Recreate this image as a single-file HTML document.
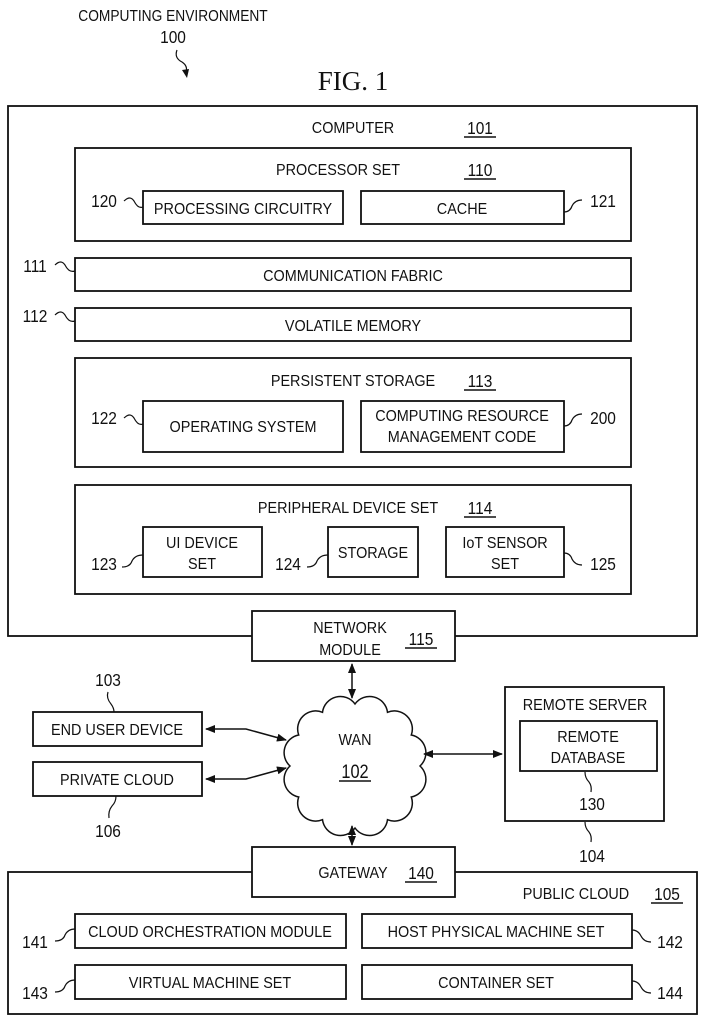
<!DOCTYPE html>
<html><head><meta charset="utf-8"><style>
html,body{margin:0;padding:0;background:#fff;}
svg{display:block;}
text{font-family:"Liberation Sans",sans-serif;fill:#111;}
.l{font-size:16px;}
.n{font-size:18px;}
rect{fill:#fff;stroke:#111;stroke-width:1.8;}
.w{fill:none;stroke:#111;stroke-width:1.2;}
.a{fill:none;stroke:#111;stroke-width:1.5;}
</style></head><body>
<svg width="707" height="1024" viewBox="0 0 707 1024" xmlns="http://www.w3.org/2000/svg">
<defs><marker id="ar" markerWidth="10" markerHeight="8" refX="9" refY="4" orient="auto-start-reverse" markerUnits="userSpaceOnUse"><path d="M0,0 L10,4 L0,8 z" fill="#111"/></marker></defs>

<text class="l" transform="translate(173 21) scale(.86 1)" text-anchor="middle">COMPUTING ENVIRONMENT</text>
<text class="n" transform="translate(173 43) scale(.86 1)" text-anchor="middle">100</text>
<path class="w" d="M177,50 q-3,8 5,12 q6,4 4,10"/>
<path d="M182,70 l5,8 l2,-9 z" fill="#111"/>
<text x="353" y="90" text-anchor="middle" style="font-family:'Liberation Serif',serif;font-size:27px">FIG. 1</text>

<rect x="8" y="106" width="689" height="530"/>
<text class="l" transform="translate(353 133) scale(.9 1)" text-anchor="middle">COMPUTER</text>
<text class="n" transform="translate(480 134) scale(.86 1)" text-anchor="middle">101</text>
<line x1="464" y1="137" x2="496" y2="137" stroke="#111" stroke-width="1.4"/>

<rect x="75" y="148" width="556" height="93"/>
<text class="l" transform="translate(338 175) scale(.9 1)" text-anchor="middle">PROCESSOR SET</text>
<text class="n" transform="translate(480 176) scale(.86 1)" text-anchor="middle">110</text>
<line x1="464" y1="179" x2="496" y2="179" stroke="#111" stroke-width="1.4"/>
<rect x="143" y="191" width="200" height="33"/>
<text class="l" transform="translate(243 214) scale(.9 1)" text-anchor="middle">PROCESSING CIRCUITRY</text>
<rect x="361" y="191" width="203" height="33"/>
<text class="l" transform="translate(462 214) scale(.9 1)" text-anchor="middle">CACHE</text>
<text class="n" transform="translate(104 207) scale(.86 1)" text-anchor="middle">120</text>
<path class="w" d="M124,201 q6,-6 10,0 q4,8 9,6"/>
<text class="n" transform="translate(603 207) scale(.86 1)" text-anchor="middle">121</text>
<path class="w" d="M564,212 q6,0 8,-6 q3,-6 10,-6"/>

<rect x="75" y="258" width="556" height="33"/>
<text class="l" transform="translate(353 281) scale(.9 1)" text-anchor="middle">COMMUNICATION FABRIC</text>
<text class="n" transform="translate(35 272) scale(.86 1)" text-anchor="middle">111</text>
<path class="w" d="M55,265 q6,-6 10,0 q4,8 10,6"/>
<rect x="75" y="308" width="556" height="33"/>
<text class="l" transform="translate(353 331) scale(.9 1)" text-anchor="middle">VOLATILE MEMORY</text>
<text class="n" transform="translate(35 322) scale(.86 1)" text-anchor="middle">112</text>
<path class="w" d="M55,315 q6,-6 10,0 q4,8 10,6"/>

<rect x="75" y="358" width="556" height="109"/>
<text class="l" transform="translate(353 386) scale(.9 1)" text-anchor="middle">PERSISTENT STORAGE</text>
<text class="n" transform="translate(480 387) scale(.86 1)" text-anchor="middle">113</text>
<line x1="464" y1="390" x2="496" y2="390" stroke="#111" stroke-width="1.4"/>
<rect x="143" y="401" width="200" height="51"/>
<text class="l" transform="translate(243 432) scale(.9 1)" text-anchor="middle">OPERATING SYSTEM</text>
<rect x="361" y="401" width="203" height="51"/>
<text class="l" transform="translate(462 421) scale(.9 1)" text-anchor="middle">COMPUTING RESOURCE</text>
<text class="l" transform="translate(462 442) scale(.9 1)" text-anchor="middle">MANAGEMENT CODE</text>
<text class="n" transform="translate(104 424) scale(.86 1)" text-anchor="middle">122</text>
<path class="w" d="M124,418 q6,-6 10,0 q4,8 9,6"/>
<text class="n" transform="translate(603 424) scale(.86 1)" text-anchor="middle">200</text>
<path class="w" d="M564,426 q6,0 8,-6 q3,-6 10,-6"/>

<rect x="75" y="485" width="556" height="109"/>
<text class="l" transform="translate(348 513) scale(.9 1)" text-anchor="middle">PERIPHERAL DEVICE SET</text>
<text class="n" transform="translate(480 514) scale(.86 1)" text-anchor="middle">114</text>
<line x1="464" y1="517" x2="496" y2="517" stroke="#111" stroke-width="1.4"/>
<rect x="143" y="527" width="119" height="50"/>
<text class="l" transform="translate(202 548) scale(.9 1)" text-anchor="middle">UI DEVICE</text>
<text class="l" transform="translate(202 569) scale(.9 1)" text-anchor="middle">SET</text>
<rect x="328" y="527" width="90" height="50"/>
<text class="l" transform="translate(373 558) scale(.9 1)" text-anchor="middle">STORAGE</text>
<rect x="446" y="527" width="118" height="50"/>
<text class="l" transform="translate(505 548) scale(.9 1)" text-anchor="middle">IoT SENSOR</text>
<text class="l" transform="translate(505 569) scale(.9 1)" text-anchor="middle">SET</text>
<text class="n" transform="translate(104 570) scale(.86 1)" text-anchor="middle">123</text>
<path class="w" d="M122,567 q8,0 10,-6 q3,-6 11,-6"/>
<text class="n" transform="translate(288 570) scale(.86 1)" text-anchor="middle">124</text>
<path class="w" d="M307,567 q8,0 10,-6 q3,-6 11,-6"/>
<text class="n" transform="translate(603 570) scale(.86 1)" text-anchor="middle">125</text>
<path class="w" d="M564,553 q6,0 8,6 q3,6 10,6"/>

<rect x="252" y="611" width="203" height="50"/>
<text class="l" transform="translate(350 633) scale(.9 1)" text-anchor="middle">NETWORK</text>
<text class="l" transform="translate(350 655) scale(.9 1)" text-anchor="middle">MODULE</text>
<text class="n" transform="translate(421 645) scale(.86 1)" text-anchor="middle">115</text>
<line x1="405" y1="648" x2="437" y2="648" stroke="#111" stroke-width="1.4"/>

<path d="M420,766 A18,18 0 0 1 411.3,797 A18,18 0 0 1 387.5,819.7 A18,18 0 0 1 355,828 A18,18 0 0 1 322.5,819.7 A18,18 0 0 1 298.7,797 A18,18 0 0 1 290,766 A18,18 0 0 1 298.7,735 A18,18 0 0 1 322.5,712.3 A18,18 0 0 1 355,704 A18,18 0 0 1 387.5,712.3 A18,18 0 0 1 411.3,735 A18,18 0 0 1 420,766 z" fill="#fff" stroke="#111" stroke-width="1.5"/>
<text class="l" transform="translate(355 745) scale(.9 1)" text-anchor="middle">WAN</text>
<text class="n" transform="translate(355 778) scale(.86 1)" text-anchor="middle" style="font-size:19px">102</text>
<line x1="339" y1="781" x2="371" y2="781" stroke="#111" stroke-width="1.4"/>

<line class="a" x1="352" y1="664" x2="352" y2="698" marker-start="url(#ar)" marker-end="url(#ar)"/>
<line class="a" x1="352" y1="826" x2="352" y2="845" marker-start="url(#ar)" marker-end="url(#ar)"/>
<polyline class="a" points="206,729 246,729 286,740" marker-start="url(#ar)" marker-end="url(#ar)"/>
<polyline class="a" points="206,779 246,779 286,768" marker-start="url(#ar)" marker-end="url(#ar)"/>
<line class="a" x1="424" y1="754" x2="502" y2="754" marker-start="url(#ar)" marker-end="url(#ar)"/>

<rect x="33" y="712" width="169" height="34"/>
<text class="l" transform="translate(117 735) scale(.9 1)" text-anchor="middle">END USER DEVICE</text>
<rect x="33" y="762" width="169" height="34"/>
<text class="l" transform="translate(117 785) scale(.9 1)" text-anchor="middle">PRIVATE CLOUD</text>
<text class="n" transform="translate(108 686) scale(.86 1)" text-anchor="middle">103</text>
<path class="w" d="M108,692 q-2,6 3,12 q3,4 3,8"/>
<text class="n" transform="translate(108 837) scale(.86 1)" text-anchor="middle">106</text>
<path class="w" d="M116,796 q0,6 -4,10 q-4,5 -3,12"/>

<rect x="505" y="687" width="159" height="134"/>
<text class="l" transform="translate(585 710) scale(.9 1)" text-anchor="middle">REMOTE SERVER</text>
<rect x="520" y="721" width="137" height="50"/>
<text class="l" transform="translate(588 742) scale(.9 1)" text-anchor="middle">REMOTE</text>
<text class="l" transform="translate(588 763) scale(.9 1)" text-anchor="middle">DATABASE</text>
<text class="n" transform="translate(592 810) scale(.86 1)" text-anchor="middle">130</text>
<path class="w" d="M585,772 q0,6 4,10 q3,4 2,10"/>
<text class="n" transform="translate(592 862) scale(.86 1)" text-anchor="middle">104</text>
<path class="w" d="M585,822 q0,6 4,10 q3,4 2,10"/>

<rect x="8" y="872" width="689" height="142"/>
<rect x="252" y="847" width="203" height="50"/>
<text class="l" transform="translate(353 878) scale(.9 1)" text-anchor="middle">GATEWAY</text>
<text class="n" transform="translate(421 879) scale(.86 1)" text-anchor="middle">140</text>
<line x1="405" y1="882" x2="437" y2="882" stroke="#111" stroke-width="1.4"/>
<text class="l" transform="translate(576 899) scale(.9 1)" text-anchor="middle">PUBLIC CLOUD</text>
<text class="n" transform="translate(667 900) scale(.86 1)" text-anchor="middle">105</text>
<line x1="651" y1="903" x2="683" y2="903" stroke="#111" stroke-width="1.4"/>

<rect x="75" y="914" width="271" height="34"/>
<text class="l" transform="translate(210 937) scale(.9 1)" text-anchor="middle">CLOUD ORCHESTRATION MODULE</text>
<rect x="362" y="914" width="270" height="34"/>
<text class="l" transform="translate(496 937) scale(.9 1)" text-anchor="middle">HOST PHYSICAL MACHINE SET</text>
<rect x="75" y="965" width="271" height="34"/>
<text class="l" transform="translate(210 988) scale(.9 1)" text-anchor="middle">VIRTUAL MACHINE SET</text>
<rect x="362" y="965" width="270" height="34"/>
<text class="l" transform="translate(496 988) scale(.9 1)" text-anchor="middle">CONTAINER SET</text>
<text class="n" transform="translate(35 948) scale(.86 1)" text-anchor="middle">141</text>
<path class="w" d="M55,941 q8,0 10,-6 q3,-6 10,-6"/>
<text class="n" transform="translate(35 999) scale(.86 1)" text-anchor="middle">143</text>
<path class="w" d="M55,992 q8,0 10,-6 q3,-6 10,-6"/>
<text class="n" transform="translate(670 948) scale(.86 1)" text-anchor="middle">142</text>
<path class="w" d="M632,930 q6,0 9,6 q3,6 10,6"/>
<text class="n" transform="translate(670 999) scale(.86 1)" text-anchor="middle">144</text>
<path class="w" d="M632,981 q6,0 9,6 q3,6 10,6"/>
</svg>
</body></html>
